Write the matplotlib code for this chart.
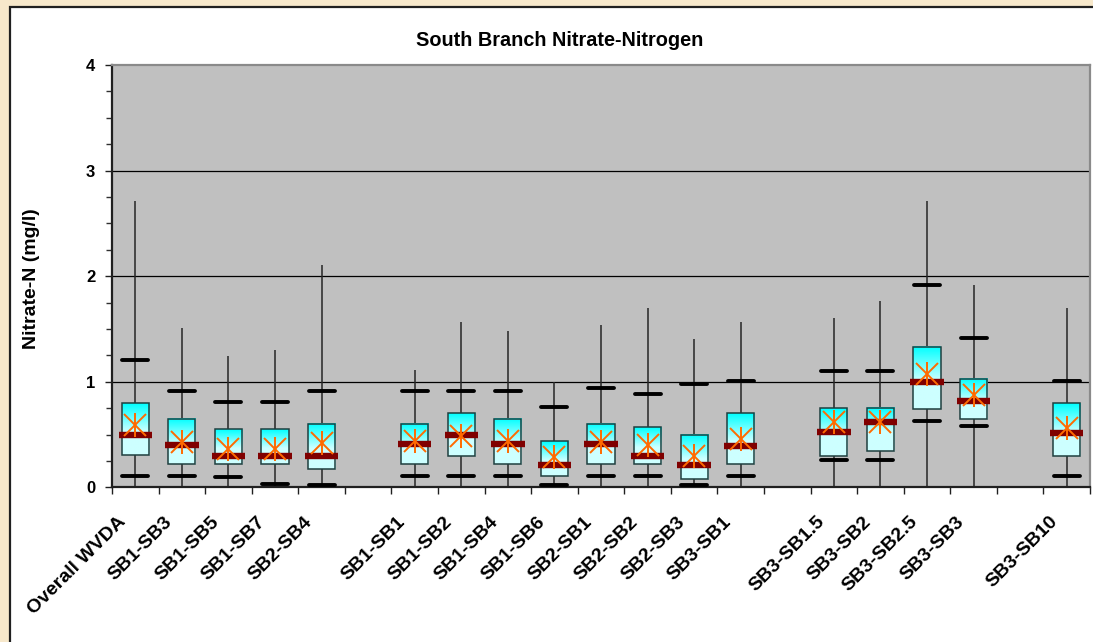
import numpy as np
import matplotlib
matplotlib.use("Agg")
import matplotlib.pyplot as plt
import matplotlib.transforms as mtransforms
from matplotlib.patches import Rectangle
from matplotlib.ticker import MultipleLocator, FixedLocator

plt.rcParams['font.family'] = ['Liberation Sans', 'DejaVu Sans']

# ---- data (blank strings are empty gap slots on the category axis) ----
categories = ["Overall WVDA", "SB1-SB3", "SB1-SB5", "SB1-SB7", "SB2-SB4", "",
              "SB1-SB1", "SB1-SB2", "SB1-SB4", "SB1-SB6", "SB2-SB1", "SB2-SB2",
              "SB2-SB3", "SB3-SB1", "", "SB3-SB1.5", "SB3-SB2", "SB3-SB2.5",
              "SB3-SB3", "", "SB3-SB10"]
nan = np.nan
maximum = [2.71, 1.51, 1.24, 1.30, 2.11, nan, 1.11, 1.57, 1.48, 1.00, 1.54, 1.70,
           1.40, 1.57, nan, 1.60, 1.76, 2.71, 1.92, nan, 1.70]
p90 =     [1.21, 0.91, 0.81, 0.81, 0.91, nan, 0.91, 0.91, 0.91, 0.76, 0.94, 0.88,
           0.98, 1.01, nan, 1.10, 1.10, 1.92, 1.41, nan, 1.01]
q75 =     [0.80, 0.65, 0.55, 0.55, 0.60, nan, 0.60, 0.70, 0.65, 0.44, 0.60, 0.57,
           0.50, 0.70, nan, 0.75, 0.75, 1.33, 1.03, nan, 0.80]
median =  [0.50, 0.40, 0.30, 0.30, 0.30, nan, 0.41, 0.50, 0.41, 0.21, 0.41, 0.30,
           0.21, 0.39, nan, 0.52, 0.62, 1.00, 0.82, nan, 0.51]
mean =    [0.59, 0.43, 0.36, 0.36, 0.42, nan, 0.44, 0.49, 0.44, 0.29, 0.43, 0.40,
           0.30, 0.46, nan, 0.62, 0.62, 1.07, 0.87, nan, 0.56]
q25 =     [0.31, 0.22, 0.22, 0.22, 0.17, nan, 0.22, 0.30, 0.22, 0.11, 0.22, 0.22,
           0.08, 0.22, nan, 0.30, 0.34, 0.74, 0.65, nan, 0.30]
p10 =     [0.11, 0.11, 0.095, 0.03, 0.02, nan, 0.11, 0.11, 0.11, 0.02, 0.11, 0.11,
           0.02, 0.11, nan, 0.26, 0.26, 0.63, 0.58, nan, 0.11]
minimum = [0.0, 0.0, 0.0, 0.0, 0.0, nan, 0.0, 0.0, 0.0, 0.0, 0.0, 0.0,
           0.0, 0.0, nan, 0.0, 0.0, 0.0, 0.0, nan, 0.0]

title = "South Branch Nitrate-Nitrogen"
ylabel = "Nitrate-N (mg/l)"
yticks = [0, 1, 2, 3, 4]

# ---- figure ----
W, H = 1093, 642
fig = plt.figure(figsize=(W / 100, H / 100), dpi=100)
fig.patch.set_facecolor('#F7E8CB')
# white chart panel
fig.patches.append(Rectangle((10 / W, -0.05), 1.1, 1 - 7 / H + 0.05,
                             transform=fig.transFigure, facecolor='white',
                             edgecolor='#202020', linewidth=1.6, zorder=-5))

ax = fig.add_axes([112 / W, 1 - 487.3 / H, (1090 - 112) / W, (487.3 - 65) / H])
ax.set_zorder(2)
ax.set_facecolor('#C0C0C0')
n = len(categories)
x = np.arange(n)

# grid
for g in yticks[1:-1]:
    ax.axhline(g, color='#000000', lw=0.9, zorder=1)

# gradient image for boxes
grad_n = 100
t = np.linspace(0, 1, grad_n)  # 0 = bottom, 1 = top
r = np.where(t < 0.45, 205, 205 - (t - 0.45) / 0.55 * 205)
grad = np.zeros((grad_n, 1, 3))
grad[:, 0, 0] = r / 255
grad[:, 0, 1] = 1.0
grad[:, 0, 2] = 1.0

bw = 0.29
cw = 0.28
mw = 0.36
for i in range(n):
    if not categories[i]:
        continue
    xi = x[i]
    ax.plot([xi, xi], [minimum[i], maximum[i]], color='#262626', lw=1.1,
            zorder=2, solid_capstyle='butt')
    ax.hlines([p90[i], p10[i]], xi - cw, xi + cw, color='black', lw=2.8,
              zorder=3, capstyle='round')
    ax.imshow(grad, extent=[xi - bw, xi + bw, q25[i], q75[i]], origin='lower',
              aspect='auto', zorder=4, interpolation='bilinear')
    ax.add_patch(Rectangle((xi - bw, q25[i]), 2 * bw, q75[i] - q25[i],
                           facecolor='none', edgecolor='#1F3F3F', lw=1.1,
                           zorder=5))
    ax.hlines(median[i], xi - mw, xi + mw, color='#800000', lw=4.6, zorder=6)
    ax.plot(xi, mean[i], marker='x', ms=16.5, mew=1.4, color='#FF6A00',
            zorder=7, linestyle='none')
    ax.plot(xi, mean[i], marker='|', ms=17, mew=1.4, color='#FF6A00',
            zorder=7, linestyle='none')

ax.set_xlim(-0.5, n - 0.5)
ax.set_ylim(0, 4)

# y axis ticks
ax.yaxis.set_major_locator(FixedLocator(yticks))
ax.yaxis.set_minor_locator(MultipleLocator(0.25))
ax.set_yticklabels([str(v) for v in yticks], fontsize=12, fontweight='bold')
ax.tick_params(axis='y', which='major', length=5, width=1, color='#202020',
               pad=7)
ax.tick_params(axis='y', which='minor', length=4, width=1, color='#303030')

# x axis ticks: boundaries as tick marks, labels at centers
ax.xaxis.set_major_locator(FixedLocator(np.arange(n + 1) - 0.5))
ax.xaxis.set_minor_locator(FixedLocator(x))
ax.set_xticklabels([''] * (n + 1))
ax.set_xticklabels(categories, minor=True, rotation=45, ha='right',
                   va='center', rotation_mode='anchor', fontsize=14,
                   fontweight='bold')
ax.tick_params(axis='x', which='major', length=5, width=1, color='#202020')
ax.tick_params(axis='x', which='minor', length=0, pad=23)
offset = mtransforms.ScaledTranslation(-12 / 100, 0, fig.dpi_scale_trans)
for lab in ax.xaxis.get_minorticklabels():
    lab.set_transform(lab.get_transform() + offset)

for s in ['left', 'bottom']:
    ax.spines[s].set_color('#202020')
    ax.spines[s].set_linewidth(1.6)
for s in ['top', 'right']:
    ax.spines[s].set_color('#8A8A8A')
    ax.spines[s].set_linewidth(1.6)

fig.text(560 / W, 1 - 40 / H, title, ha='center', va='center', fontsize=14.3,
         fontweight='bold')
fig.text(31 / W, 1 - 279 / H, ylabel, ha='center', va='center', rotation=90,
         fontsize=14, fontweight='bold')

fig.savefig('out.png', dpi=100, facecolor=fig.get_facecolor())
